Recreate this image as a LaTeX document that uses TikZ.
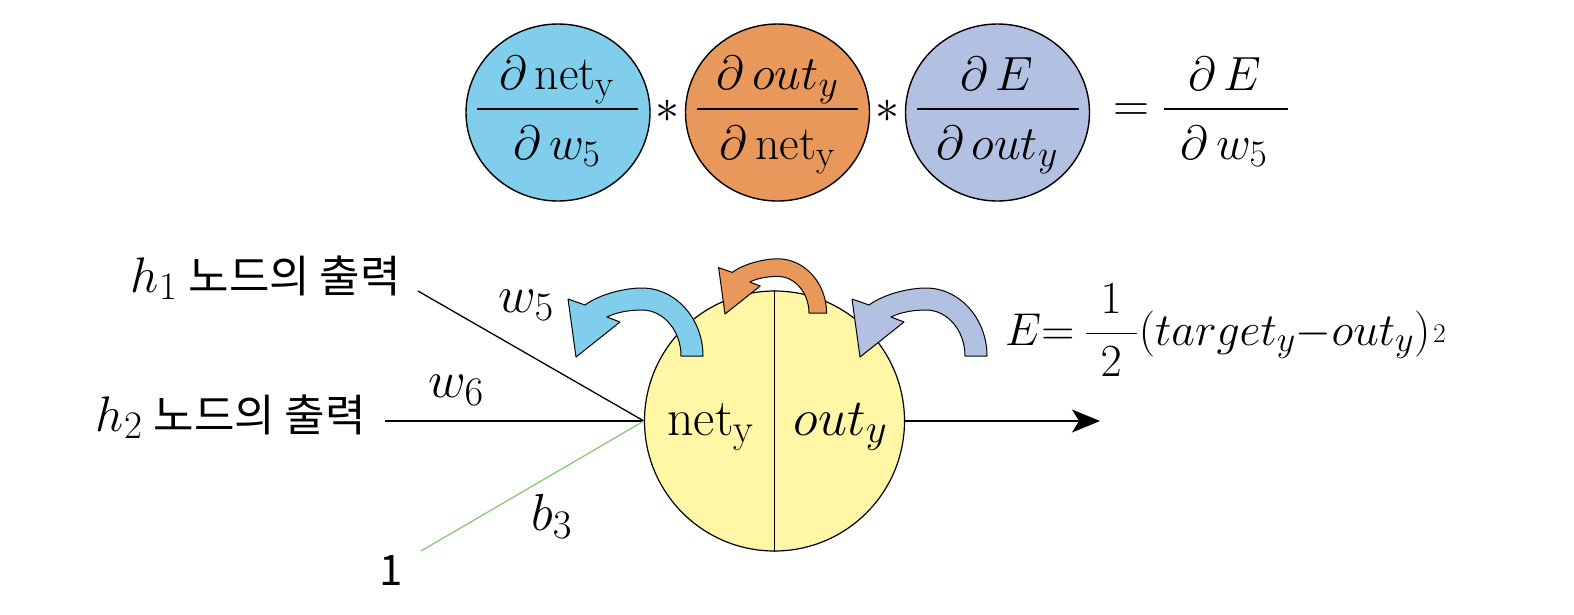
\RequirePackage{fix-cm}
\documentclass[tikz,border=0pt]{standalone}
\usepackage{amsmath}
\usepackage{fontspec}
\newfontfamily\kr{Noto Sans CJK KR}
\renewcommand\defaultscriptratio{.78}
\renewcommand\defaultscriptscriptratio{.6}
\usetikzlibrary{arrows.meta,shapes.geometric}
\definecolor{cblue}{RGB}{128,205,236}
\definecolor{corange}{RGB}{233,152,92}
\definecolor{clav}{RGB}{178,192,226}
\definecolor{cyellow}{RGB}{255,247,165}
\definecolor{cgreen}{RGB}{140,200,120}
\begin{document}
\begin{tikzpicture}[x=1pt,y=-1pt,
  pd/.style={shape=ellipse, draw=black, line width=1.4pt, minimum width=184pt, minimum height=177pt, inner sep=0pt},
  big/.style={font=\fontsize{48}{58}\selectfont, inner sep=0pt, anchor=base},
  lab/.style={font=\fontsize{52}{62}\selectfont, inner sep=0pt},
  fbar/.style={line width=2.2pt},
  wire/.style={line width=1.3pt},
  carrow/.pic={\filldraw[fill=#1, draw=black, line width=1pt, line join=round]
    (61,7) .. controls (61,-30.4) and (33.5,-61) .. (0,-61)
    .. controls (-17,-61) and (-42,-55) .. (-57,-44)
    -- (-74,-50) -- (-66,8) -- (-22,-27) -- (-35,-32)
    .. controls (-25,-37) and (-12,-39) .. (0,-39)
    .. controls (21.5,-39) and (39,-18.3) .. (39,7) -- cycle;}
]
\useasboundingbox (0,0) rectangle (1574,614);
% ---------- top row ----------
\node[pd, fill=cblue]   (e1) at (558,112.5) {};
\node[pd, fill=corange] (e2) at (777.5,112.5) {};
\node[pd, fill=clav]    (e3) at (997.5,112.5) {};
\node[big] (n1) at (557,89) {$\partial\,\mathrm{net}_\mathrm{y}$};
\node[big] (d1) at (557,159) {$\partial\,w_5$};
\draw[fbar] (477,109) -- (638,109);
\node[big] (n2) at (777.5,89) {$\partial\,out_y$};
\node[big] (d2) at (777.5,159) {$\partial\,\mathrm{net}_\mathrm{y}$};
\draw[fbar] (697,109) -- (858,109);
\node[big] (n3) at (997,90) {$\partial\,E$};
\node[big] (d3) at (997,159) {$\partial\,out_y$};
\draw[fbar] (917,109) -- (1079,109);
\node[big] (s1) at (667,122) {$\ast$};
\node[big] (s2) at (887,122) {$\ast$};
\node[big, font=\fontsize{50}{60}\selectfont] (eq) at (1131,121) {$=$};
\node[big] (n4) at (1225,90) {$\partial\,E$};
\node[big] (d4) at (1224,159) {$\partial\,w_5$};
\draw[fbar] (1164,109) -- (1288,109);
% ---------- bottom ----------
\coordinate (h1e) at (418,291);
\coordinate (h2e) at (385,421);
\coordinate (onee) at (421,551);
\coordinate (outtip) at (1100,421);
\node[circle, draw=black, line width=1.2pt, fill=cyellow, minimum size=260pt, inner sep=0pt] (Y) at (774.5,421) {};
\draw[wire] (Y.north) -- (Y.south);
\draw[wire] (h1e) -- (Y.west);
\draw[wire] (h2e) -- (Y.west);
\draw[wire, draw=cgreen] (onee) -- (Y.west);
\draw[wire, -{Stealth[length=28pt,width=23pt,inset=7pt]}] (Y.east) -- (outtip);
\pic at (642,349) {carrow=cblue};
\pic[scale=0.8] at (777.8,307.6) {carrow=corange};
\pic at (926,349) {carrow=clav};
\node[lab, anchor=base] (nety) at (710.5,435) {$\mathrm{net}_\mathrm{y}$};
\node[lab, anchor=base] (outy) at (840.5,435) {$out_y$};
\node[lab, anchor=base west] (w5) at (498,312) {$w_5$};
\node[lab, anchor=base west] (w6) at (428,397) {$w_6$};
\node[lab, anchor=base west] (b3) at (531,530) {$b_3$};
\node[inner sep=0pt, anchor=base east] (h1) at (401,292) {{\fontsize{50}{60}\selectfont$h_1$}\hspace{11pt}{\kr\fontsize{44}{52}\selectfont 노드의 출력}};
\node[inner sep=0pt, anchor=base east] (h2) at (366,431) {{\fontsize{50}{60}\selectfont$h_2$}\hspace{11pt}{\kr\fontsize{44}{52}\selectfont 노드의 출력}};
\node[inner sep=0pt, anchor=base west, font=\kr\fontsize{42}{50}\selectfont] (one) at (379,585) {1};
\node[inner sep=0pt, anchor=base west, font=\fontsize{46}{56}\selectfont] (Eq) at (1005,345)
  {$E{=}\hspace{10pt}\dfrac{\hspace{15pt}1\hspace{15pt}}{\hspace{15pt}2\hspace{15pt}}\hspace{1pt}(target_y{-}out_y)\hspace{3pt}\raisebox{3pt}{\fontsize{27}{30}\selectfont 2}$};
\end{tikzpicture}
\end{document}
